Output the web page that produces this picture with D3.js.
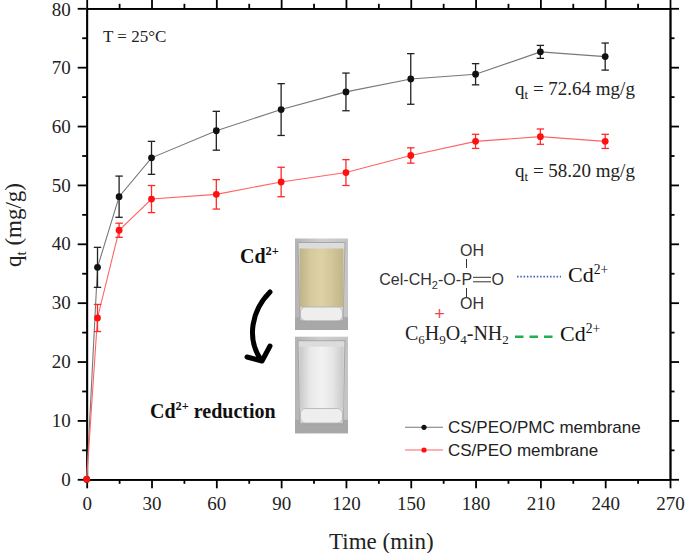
<!DOCTYPE html>
<meta charset="utf-8">
<style>
  body { margin: 0; background: #fff; }
  .axis path, .axis line { stroke: #000; stroke-width: 1.8; }
  .axis text { font-family: "Liberation Serif", "Times New Roman", serif; font-size: 19px; fill: #222; }
  .serif { font-family: "Liberation Serif", "Times New Roman", serif; fill: #222; }
  .sans { font-family: "Liberation Sans", Arial, sans-serif; fill: #222; }
</style>
<body>
<script src="https://cdn.jsdelivr.net/npm/d3@7"></script>
<script>

// adsorption time (min) and q_t (mg/g)
var times  = [0, 5, 15, 30, 60, 90, 120, 150, 180, 210, 240];
var pmcQt  = [0, 36.0, 48.0, 54.6, 59.2, 62.8, 65.8, 68.0, 68.8, 72.6, 71.8];
var pmcErr = [0, 3.4, 3.5, 2.8, 3.3, 4.4, 3.2, 4.3, 1.8, 1.1, 2.3];
var peoQt  = [0, 27.4, 42.3, 47.6, 48.4, 50.5, 52.1, 55.0, 57.4, 58.2, 57.4];
var peoErr = [0, 2.3, 1.2, 2.3, 2.5, 2.5, 2.2, 1.3, 1.2, 1.3, 1.2];

var xTicks = [0, 30, 60, 90, 120, 150, 180, 210, 240, 270];
var yTicks = [0, 10, 20, 30, 40, 50, 60, 70, 80];
var xMinor = d3.range(15, 270, 30);
var yMinor = d3.range(5, 80, 10);

var seriesNames = ["CS/PEO/PMC membrane", "CS/PEO membrane"];

var SERIF = "'Liberation Serif', 'Times New Roman', serif";
var SANS = "'Liberation Sans', Arial, sans-serif";

var margin = {top: 8.3, right: 15, bottom: 73.7, left: 86.7};
var W = 685, H = 553;
var w = W - margin.left - margin.right,
    h = H - margin.top - margin.bottom;

var svg = d3.select("body").append("svg")
    .attr("width", W)
    .attr("height", H);

var g = svg.append("g")
    .attr("transform", "translate(" + margin.left + "," + margin.top + ")");

var x = d3.scaleLinear().domain([0, 270]).range([0, w]);
var y = d3.scaleLinear().domain([0, 80]).range([h, 0]);

// axes: major + minor, mirrored top/right
function addAxis(axis, tx, ty) {
  var a = g.append("g").attr("class", "axis")
    .attr("transform", "translate(" + tx + "," + ty + ")")
    .call(axis);
  a.attr("font-family", SERIF).attr("font-size", 19);
  return a;
}
addAxis(d3.axisBottom(x).tickValues(xTicks).tickSize(9).tickPadding(8).tickSizeOuter(0), 0, h);
addAxis(d3.axisBottom(x).tickValues(xMinor).tickSize(4.5).tickFormat("").tickSizeOuter(0), 0, h);
addAxis(d3.axisTop(x).tickValues(xTicks).tickSize(9).tickFormat("").tickSizeOuter(0), 0, 0);
addAxis(d3.axisTop(x).tickValues(xMinor).tickSize(4.5).tickFormat("").tickSizeOuter(0), 0, 0);
var yAx = addAxis(d3.axisLeft(y).tickValues(yTicks).tickSize(9).tickPadding(7).tickSizeOuter(0), 0, 0);
addAxis(d3.axisLeft(y).tickValues(yMinor).tickSize(4.5).tickFormat("").tickSizeOuter(0), 0, 0);
addAxis(d3.axisRight(y).tickValues(yTicks).tickSize(9).tickFormat("").tickSizeOuter(0), w, 0);
addAxis(d3.axisRight(y).tickValues(yMinor).tickSize(4.5).tickFormat("").tickSizeOuter(0), w, 0);
// keep the top "80" label inside the frame
yAx.selectAll(".tick text").filter(function(d) { return d === 80; }).attr("dy", "0.36em");

// axis titles
svg.append("text").attr("class", "serif")
    .attr("x", margin.left + x(135) + 3).attr("y", 549)
    .attr("text-anchor", "middle")
    .style("font-family", SERIF).style("font-size", "23px")
    .text("Time (min)");

var yl = svg.append("text").attr("class", "serif")
    .attr("transform", "translate(21,225) rotate(-90)")
    .attr("text-anchor", "middle")
    .style("font-family", SERIF).style("font-size", "23px");
yl.append("tspan").text("q");
yl.append("tspan").attr("dy", 5).style("font-size", "15px").text("t");
yl.append("tspan").attr("dy", -5).text(" (mg/g)");

// data series
var series = [
  {qt: pmcQt, err: pmcErr, line: "#777", mark: "#111", bar: "#222"},
  {qt: peoQt, err: peoErr, line: "#ff6464", mark: "#ff1010", bar: "#ff2a2a"}
];

var line = d3.line()
    .x(function(d) { return x(d.t); })
    .y(function(d) { return y(d.v); });

series.forEach(function(s) {
  var pts = times.map(function(t, i) { return {t: t, v: s.qt[i], e: s.err[i]}; });
  var sg = g.append("g");
  sg.append("path").datum(pts)
    .attr("d", line)
    .attr("fill", "none")
    .attr("stroke", s.line)
    .attr("stroke-width", 1.1);

  var eb = sg.selectAll("g.eb").data(pts.filter(function(d) { return d.e > 0; }))
    .enter().append("g").attr("class", "eb")
    .attr("stroke", s.bar).attr("stroke-width", 1.3);
  eb.append("line")
    .attr("x1", function(d) { return x(d.t); }).attr("x2", function(d) { return x(d.t); })
    .attr("y1", function(d) { return y(d.v - d.e); }).attr("y2", function(d) { return y(d.v + d.e); });
  eb.append("line")
    .attr("x1", function(d) { return x(d.t) - 3.7; }).attr("x2", function(d) { return x(d.t) + 3.7; })
    .attr("y1", function(d) { return y(d.v + d.e); }).attr("y2", function(d) { return y(d.v + d.e); });
  eb.append("line")
    .attr("x1", function(d) { return x(d.t) - 3.7; }).attr("x2", function(d) { return x(d.t) + 3.7; })
    .attr("y1", function(d) { return y(d.v - d.e); }).attr("y2", function(d) { return y(d.v - d.e); });

  sg.selectAll("circle").data(pts).enter().append("circle")
    .attr("cx", function(d) { return x(d.t); })
    .attr("cy", function(d) { return y(d.v); })
    .attr("r", 3.4)
    .attr("fill", s.mark);
});

// annotations
svg.append("text").attr("class", "serif")
    .attr("x", 103).attr("y", 42).style("font-family", SERIF).style("font-size", "17px")
    .text("T = 25°C");

function qLabel(yy, txt) {
  var t = svg.append("text").attr("class", "serif")
      .attr("x", 515).attr("y", yy).style("font-family", SERIF).style("font-size", "19px");
  t.append("tspan").text("q");
  t.append("tspan").attr("dy", 4).style("font-size", "13px").text("t");
  t.append("tspan").attr("dy", -4).text(" = " + txt);
}
qLabel(95, "72.64 mg/g");
qLabel(176.5, "58.20 mg/g");

// legend
var leg = svg.append("g");
[0, 1].forEach(function(i) {
  var ly = 427.3 + i * 22.7;
  leg.append("line")
    .attr("x1", 405).attr("x2", 443).attr("y1", ly).attr("y2", ly)
    .attr("stroke", series[i].line).attr("stroke-width", 1.1);
  leg.append("circle").attr("cx", 424).attr("cy", ly).attr("r", 2.6).attr("fill", series[i].mark);
  leg.append("text").attr("class", "sans")
    .attr("x", 448).attr("y", ly + 6).style("font-family", SANS).style("font-size", "17px")
    .text(seriesNames[i]);
});

// inset: glass photos, drawn as simple shapes
var defs = svg.append("defs");
function grad(id, stops) {
  var gr = defs.append("linearGradient").attr("id", id).attr("x1", 0).attr("x2", 1);
  stops.forEach(function(s, i) {
    gr.append("stop").attr("offset", i / (stops.length - 1)).attr("stop-color", s);
  });
}
grad("gy", ["#bdb28a", "#d6c99b", "#ddd1a6", "#d2c597", "#bfb48b"]);
grad("gw", ["#c8c8c8", "#e9e9e9", "#f2f2f2", "#e6e6e6", "#c9c9c9"]);
grad("bg", ["#b4b4b4", "#cfcfcf", "#c4c4c4"]);

function glass(x0, y0, ww, hh, fill) {
  var gg = svg.append("g");
  gg.append("rect").attr("x", x0).attr("y", y0).attr("width", ww).attr("height", hh).attr("fill", "url(#bg)");
  gg.append("rect").attr("x", x0).attr("y", y0 + hh * 0.86).attr("width", ww).attr("height", hh * 0.14)
    .attr("fill", "#a8a8a8");
  // glass body with liquid
  gg.append("path")
    .attr("d", "M" + (x0 + 3) + "," + (y0 + 4) + " L" + (x0 + ww - 3) + "," + (y0 + 4) +
      " L" + (x0 + ww - 5) + "," + (y0 + hh * 0.9) + " L" + (x0 + 5) + "," + (y0 + hh * 0.9) + "Z")
    .attr("fill", "#dcdcdc").attr("stroke", "#9c9c9c").attr("stroke-width", 0.8);
  gg.append("rect").attr("x", x0 + 4.5).attr("y", y0 + 10).attr("width", ww - 9).attr("height", hh * 0.64)
    .attr("fill", fill);
  // thick clear base
  gg.append("rect").attr("x", x0 + 5.5).attr("y", y0 + 10 + hh * 0.64).attr("width", ww - 11).attr("height", hh * 0.15)
    .attr("rx", 5).attr("fill", "#eeeeee").attr("stroke", "#b0b0b0").attr("stroke-width", 0.8);
}
glass(295, 238.5, 53, 91.5, "url(#gy)");
glass(295, 336.7, 53, 96.6, "url(#gw)");

// curved arrow
svg.append("path")
    .attr("d", "M270,292 C252,310 246,338 261,360")
    .attr("fill", "none").attr("stroke", "#000").attr("stroke-width", 5).attr("stroke-linecap", "round");
svg.append("path")
    .attr("d", "M247,357 L262,361 L270,346")
    .attr("fill", "none").attr("stroke", "#000").attr("stroke-width", 5)
    .attr("stroke-linecap", "round").attr("stroke-linejoin", "round");

function cd(xx, yy, size, bold, extra) {
  var t = svg.append("text").attr("class", "serif")
      .attr("x", xx).attr("y", yy).style("font-family", SERIF).style("font-size", size + "px")
      .style("font-weight", bold ? "bold" : "normal").style("fill", "#111");
  t.append("tspan").text("Cd");
  t.append("tspan").attr("dy", -size * 0.38).style("font-size", (size * 0.62) + "px").text("2+");
  if (extra) t.append("tspan").attr("dy", size * 0.38).text(extra);
}
cd(240, 263, 20, true);
cd(150, 418, 20, true, " reduction");

// inset: chemistry
function sansText(xx, yy, txt) {
  return svg.append("text").attr("class", "sans").attr("x", xx).attr("y", yy)
    .style("font-family", SANS).style("font-size", "16px").style("fill", "#333").text(txt);
}
var chem = sansText(461, 285, null).attr("text-anchor", "end");
chem.append("tspan").text("Cel-CH");
chem.append("tspan").attr("dy", 4).style("font-size", "11px").text("2");
chem.append("tspan").attr("dy", -4).text("-O-");
sansText(461.5, 285, "P");
sansText(491.5, 285, "O");
sansText(460, 256, "OH");
sansText(460, 309, "OH");
var bonds = [[466.5, 259, 466.5, 268], [466.5, 288, 466.5, 297], [473, 277.3, 491, 277.3], [473, 281.8, 491, 281.8]];
svg.selectAll("line.bond").data(bonds).enter().append("line").attr("class", "bond")
    .attr("x1", function(d) { return d[0]; }).attr("y1", function(d) { return d[1]; })
    .attr("x2", function(d) { return d[2]; }).attr("y2", function(d) { return d[3]; })
    .attr("stroke", "#333").attr("stroke-width", 1);

svg.append("text").attr("x", 439.5).attr("y", 320)
    .attr("text-anchor", "middle").style("font-family", SANS)
    .style("font-size", "18px").style("fill", "#e8494d").text("+");

var nh = svg.append("text").attr("class", "serif")
    .attr("x", 405).attr("y", 340).style("font-family", SERIF).style("font-size", "20px");
nh.append("tspan").text("C");
nh.append("tspan").attr("dy", 4).style("font-size", "13px").text("6");
nh.append("tspan").attr("dy", -4).text("H");
nh.append("tspan").attr("dy", 4).style("font-size", "13px").text("9");
nh.append("tspan").attr("dy", -4).text("O");
nh.append("tspan").attr("dy", 4).style("font-size", "13px").text("4");
nh.append("tspan").attr("dy", -4).text("-NH");
nh.append("tspan").attr("dy", 4).style("font-size", "13px").text("2");

svg.append("line").attr("x1", 517).attr("x2", 561).attr("y1", 276.7).attr("y2", 276.7)
    .attr("stroke", "#3a62b8").attr("stroke-width", 1.8).attr("stroke-dasharray", "1.5,1.8");
svg.append("line").attr("x1", 515).attr("x2", 558).attr("y1", 336.7).attr("y2", 336.7)
    .attr("stroke", "#1fb04f").attr("stroke-width", 2.6).attr("stroke-dasharray", "8.5,6");

cd(568, 282, 22, false);
cd(560, 341, 22, false);

</script>
</body>
